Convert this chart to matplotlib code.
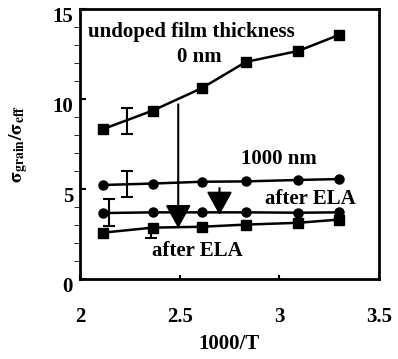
import matplotlib
matplotlib.use("Agg")
import matplotlib.pyplot as plt
import matplotlib.transforms as mtransforms
from matplotlib.ticker import MultipleLocator

# 1000/T positions of the measurement points
inv_t = [2.114, 2.364, 2.611, 2.833, 3.096, 3.300]

# sigma_grain / sigma_eff for each film
undoped_0nm = [8.32, 9.35, 10.6, 12.06, 12.67, 13.56]
film_1000nm = [5.22, 5.3, 5.4, 5.42, 5.5, 5.55]
ela_1000nm = [3.66, 3.7, 3.7, 3.7, 3.68, 3.7]
ela_0nm = [2.57, 2.85, 2.9, 3.02, 3.12, 3.3]

# error bars (x, low, high)
err_x = [2.234, 2.234, 2.147, 2.355]
err_lo = [8.04, 4.57, 2.94, 2.28]
err_hi = [9.52, 6.02, 4.43, 2.85]

# arrows (x, start y, end y)
arrow_x = [2.493, 2.70]
arrow_y0 = [9.7, 5.05]
arrow_y1 = [2.82, 3.56]

xticks = [2, 2.5, 3, 3.5]
xtick_labels = ["2", "2.5", "3", "3.5"]
yticks = [0, 5, 10, 15]

plt.rcParams.update({
    "font.family": "Liberation Serif",
    "font.weight": "bold",
    "mathtext.fontset": "stix",
    "axes.linewidth": 2.0,
})

fig = plt.figure(figsize=(3.98, 3.59), dpi=100)
ax = fig.add_axes([0.201, 0.223, 0.751, 0.752])

line_kw = dict(color="black", lw=1.8, zorder=3)
ax.plot(inv_t, undoped_0nm, marker="s", ms=6.5, **line_kw)
ax.plot(inv_t, film_1000nm, marker="o", ms=6.5, **line_kw)
ax.plot(inv_t, ela_1000nm, marker="o", ms=6.5, **line_kw)
ax.plot(inv_t, ela_0nm, marker="s", ms=6.5, **line_kw)

for x, lo, hi in zip(err_x, err_lo, err_hi):
    mid = (lo + hi) / 2
    ax.errorbar([x], [mid], yerr=[[mid - lo], [hi - mid]], fmt="none",
                ecolor="black", elinewidth=1.5, capsize=4, capthick=1.5, zorder=4)

for x, y0, y1 in zip(arrow_x, arrow_y0, arrow_y1):
    ax.annotate("", xy=(x, y1), xytext=(x, y0),
                arrowprops=dict(arrowstyle="-|>,head_length=0.4,head_width=0.22",
                                mutation_scale=36, color="black", lw=1.5,
                                shrinkA=0, shrinkB=0), zorder=5)

txt_kw = dict(fontsize=15, fontweight="bold", ha="center", va="center")
ax.text(2.557, 13.7, "undoped film thickness", **txt_kw)
ax.text(2.6, 12.33, "0 nm", **txt_kw)
ax.text(3.0, 6.67, "1000 nm", **txt_kw)
ax.text(3.154, 4.44, "after ELA", **txt_kw)
ax.text(2.59, 1.55, "after ELA", **txt_kw)

ax.set_xlim(2, 3.5)
ax.set_ylim(0, 15)
ax.set_xticks(xticks)
ax.set_xticklabels(xtick_labels)
ax.set_yticks(yticks)
ax.yaxis.set_minor_locator(MultipleLocator(1))
ax.tick_params(axis="both", direction="in", width=1.5, labelsize=15)
ax.tick_params(axis="y", which="both", length=4, pad=5)
ax.tick_params(axis="x", length=3, pad=20)

# tick labels sit a bit below their ticks in the original
offset = mtransforms.ScaledTranslation(0, -6 / 100, fig.dpi_scale_trans)
for lab in ax.get_yticklabels():
    lab.set_transform(lab.get_transform() + offset)

ax.set_xlabel("1000/T", fontsize=15, fontweight="bold", labelpad=5)
ax.set_ylabel(r"$\mathrm{\sigma}_{\mathbf{grain}}/\mathrm{\sigma}_{\mathbf{eff}}$",
              fontsize=14, labelpad=16)

fig.savefig("out.png", dpi=100)
